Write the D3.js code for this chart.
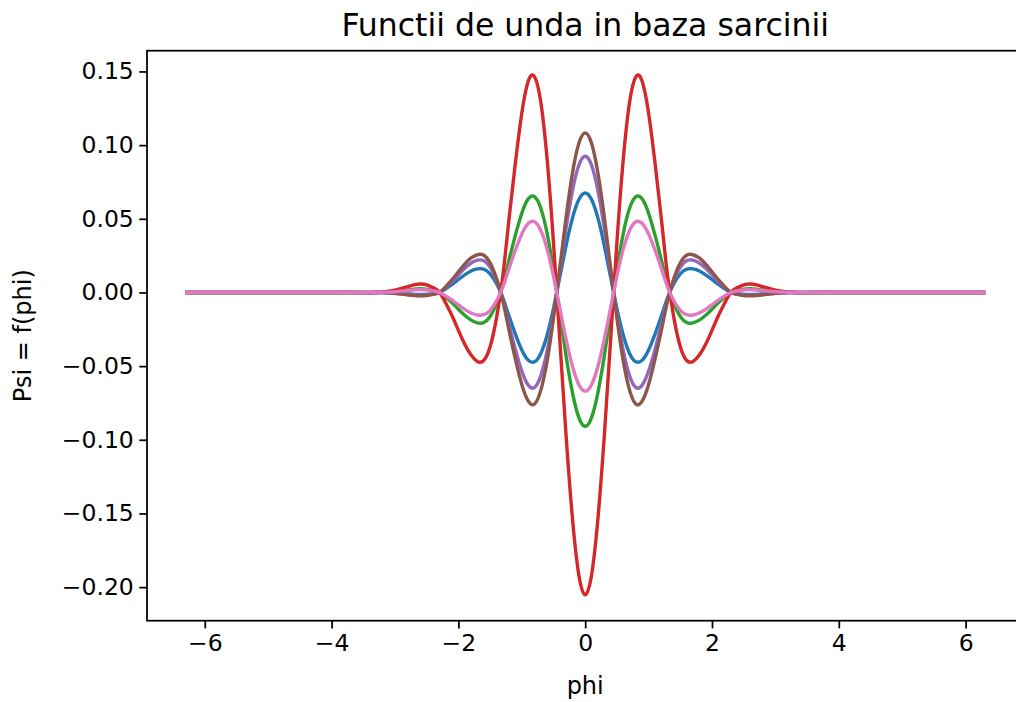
<!DOCTYPE html>
<html>
<head>
<meta charset="utf-8">
<script src="https://cdn.jsdelivr.net/npm/d3@7"></script>
<style>
  html, body { margin: 0; padding: 0; background: #fff; }
  svg { display: block; font-family: "DejaVu Sans", sans-serif; }
</style>
</head>
<body>
<svg id="chart" width="1016" height="702"></svg>
<script>
// Sample positions along phi (radians)
const phi = [-6.2832, -5, -4, -3.7,
  -3.4, -3.3, -3.2, -3.1, -3.0, -2.9, -2.8, -2.7, -2.6, -2.5, -2.4, -2.3, -2.2, -2.1, -2.0,
  -1.9, -1.8, -1.7, -1.6, -1.5, -1.4, -1.3, -1.2, -1.1, -1.0, -0.9, -0.8, -0.7, -0.6, -0.5,
  -0.4, -0.3, -0.2, -0.1, 0, 0.1, 0.2, 0.3, 0.4, 0.5, 0.6, 0.7, 0.8, 0.9, 1.0,
  1.1, 1.2, 1.3, 1.4, 1.5, 1.6, 1.7, 1.8, 1.9, 2.0, 2.1, 2.2, 2.3, 2.4, 2.5,
  2.6, 2.7, 2.8, 2.9, 3.0, 3.1, 3.2, 3.3, 3.4,
  3.7, 4, 5, 6.2832];

// Wave function values, one array per state
const psiBlue = [0, 0, 0, 0,
  0, 0, -0.0001, -0.0002, -0.0004, -0.0007, -0.0010, -0.0013, -0.0014, -0.0013, -0.0008, -0.0001, 0.0024, 0.0054, 0.0088,
  0.0120, 0.0146, 0.0160, 0.0158, 0.0126, 0.0061, -0.0035, -0.0162, -0.0284, -0.0390, -0.0459, -0.0471, -0.0414, -0.0289, -0.0108,
  0.0106, 0.0321, 0.0506, 0.0631, 0.0675, 0.0631, 0.0506, 0.0321, 0.0106, -0.0108, -0.0289, -0.0414, -0.0471, -0.0459, -0.0390,
  -0.0284, -0.0162, -0.0035, 0.0061, 0.0126, 0.0158, 0.0160, 0.0146, 0.0120, 0.0088, 0.0054, 0.0024, -0.0001, -0.0008, -0.0013,
  -0.0014, -0.0013, -0.0010, -0.0007, -0.0004, -0.0002, -0.0001, 0, 0,
  0, 0, 0, 0];

const psiGreen = [0, 0, 0, 0,
  -0.0001, 0, 0.0001, 0.0004, 0.0007, 0.0012, 0.0017, 0.0023, 0.0025, 0.0023, 0.0015, 0.0001, -0.0032, -0.0070, -0.0114,
  -0.0155, -0.0188, -0.0207, -0.0204, -0.0163, -0.0078, 0.0048, 0.0223, 0.0391, 0.0538, 0.0634, 0.0650, 0.0571, 0.0399, 0.0149,
  -0.0145, -0.0434, -0.0681, -0.0849, -0.0908, -0.0849, -0.0681, -0.0434, -0.0145, 0.0149, 0.0399, 0.0571, 0.0650, 0.0634, 0.0538,
  0.0391, 0.0223, 0.0048, -0.0078, -0.0163, -0.0204, -0.0207, -0.0188, -0.0155, -0.0114, -0.0070, -0.0032, 0.0001, 0.0015, 0.0023,
  0.0025, 0.0023, 0.0017, 0.0012, 0.0007, 0.0004, 0.0001, 0, -0.0001,
  0, 0, 0, 0];

const psiRed = [0, 0, 0, 0,
  -0.0002, 0, 0.0003, 0.0008, 0.0016, 0.0027, 0.0039, 0.0051, 0.0057, 0.0051, 0.0033, 0.0002, -0.0072, -0.0158, -0.0257,
  -0.0351, -0.0425, -0.0468, -0.0462, -0.0369, -0.0176, 0.0109, 0.0505, 0.0884, 0.1217, 0.1432, 0.1465, 0.1291, 0.0901, 0.0337,
  -0.0328, -0.0981, -0.1539, -0.1919, -0.2052, -0.1919, -0.1539, -0.0981, -0.0328, 0.0337, 0.0901, 0.1291, 0.1465, 0.1432, 0.1217,
  0.0884, 0.0505, 0.0109, -0.0176, -0.0369, -0.0462, -0.0468, -0.0425, -0.0351, -0.0257, -0.0158, -0.0072, 0.0002, 0.0033, 0.0051,
  0.0057, 0.0051, 0.0039, 0.0027, 0.0016, 0.0008, 0.0003, 0, -0.0002,
  0, 0, 0, 0];

const psiPurple = [0, 0, 0, 0,
  0, 0, -0.0001, -0.0003, -0.0006, -0.0009, -0.0014, -0.0018, -0.0019, -0.0018, -0.0011, -0.0001, 0.0033, 0.0074, 0.0120,
  0.0164, 0.0200, 0.0219, 0.0216, 0.0173, 0.0083, -0.0048, -0.0222, -0.0388, -0.0534, -0.0628, -0.0645, -0.0566, -0.0395, -0.0148,
  0.0145, 0.0440, 0.0693, 0.0864, 0.0924, 0.0864, 0.0693, 0.0440, 0.0145, -0.0148, -0.0395, -0.0566, -0.0645, -0.0628, -0.0534,
  -0.0388, -0.0222, -0.0048, 0.0083, 0.0173, 0.0216, 0.0219, 0.0200, 0.0164, 0.0120, 0.0074, 0.0033, -0.0001, -0.0011, -0.0018,
  -0.0019, -0.0018, -0.0014, -0.0009, -0.0006, -0.0003, -0.0001, 0, 0,
  0, 0, 0, 0];

const psiBrown = [0, 0, 0, 0,
  0, 0, -0.0001, -0.0003, -0.0006, -0.0011, -0.0016, -0.0021, -0.0023, -0.0021, -0.0013, -0.0001, 0.0039, 0.0087, 0.0141,
  0.0193, 0.0234, 0.0256, 0.0253, 0.0202, 0.0097, -0.0056, -0.0260, -0.0454, -0.0625, -0.0736, -0.0758, -0.0663, -0.0463, -0.0173,
  0.0170, 0.0515, 0.0812, 0.1012, 0.1082, 0.1012, 0.0812, 0.0515, 0.0170, -0.0173, -0.0463, -0.0663, -0.0758, -0.0736, -0.0625,
  -0.0454, -0.0260, -0.0056, 0.0097, 0.0202, 0.0253, 0.0256, 0.0234, 0.0193, 0.0141, 0.0087, 0.0039, -0.0001, -0.0013, -0.0021,
  -0.0023, -0.0021, -0.0016, -0.0011, -0.0006, -0.0003, -0.0001, 0, 0,
  0, 0, 0, 0];

const psiPink = [0, 0, 0, 0,
  0, 0, 0.0001, 0.0003, 0.0005, 0.0009, 0.0013, 0.0017, 0.0019, 0.0017, 0.0011, 0.0001, -0.0023, -0.0052, -0.0084,
  -0.0115, -0.0139, -0.0153, -0.0151, -0.0121, -0.0058, 0.0036, 0.0165, 0.0289, 0.0397, 0.0468, 0.0480, 0.0421, 0.0294, 0.0110,
  -0.0107, -0.0320, -0.0503, -0.0626, -0.0670, -0.0626, -0.0503, -0.0320, -0.0107, 0.0110, 0.0294, 0.0421, 0.0480, 0.0468, 0.0397,
  0.0289, 0.0165, 0.0036, -0.0058, -0.0121, -0.0151, -0.0153, -0.0139, -0.0115, -0.0084, -0.0052, -0.0023, 0.0001, 0.0011, 0.0017,
  0.0019, 0.0017, 0.0013, 0.0009, 0.0005, 0.0003, 0.0001, 0, 0,
  0, 0, 0, 0];

const seriesList = [
  { values: psiBlue,   color: "#1f77b4" },
  { values: psiGreen,  color: "#2ca02c" },
  { values: psiRed,    color: "#d62728" },
  { values: psiPurple, color: "#9467bd" },
  { values: psiBrown,  color: "#8c564b" },
  { values: psiPink,   color: "#e377c2" }
];

const xTicks = [-6, -4, -2, 0, 2, 4, 6];
const yTicks = [-0.20, -0.15, -0.10, -0.05, 0.00, 0.05, 0.10, 0.15];

const titleText = "Functii de unda in baza sarcinii";
const xLabelText = "phi";
const yLabelText = "Psi = f(phi)";

// Layout of the axes box
const boxLeft = 147, boxRight = 1023.4, boxTop = 50.7, boxBottom = 620.7;
const tickLen = 7.7, tickPad = 5.5;
const fontTick = 23.5, fontLabel = 24, fontTitle = 31.5;

const svg = d3.select("#chart");
svg.append("rect").attr("width", 1016).attr("height", 702).attr("fill", "#fff");

// Domains padded by 5% on each side
const xExt = d3.extent(phi);
const xPad = (xExt[1] - xExt[0]) * 0.05;
const allY = seriesList.flatMap(s => s.values);
const yExt = d3.extent(allY);
const yPad = (yExt[1] - yExt[0]) * 0.05;

const x = d3.scaleLinear().domain([xExt[0] - xPad, xExt[1] + xPad]).range([boxLeft, boxRight]);
const y = d3.scaleLinear().domain([yExt[0] - yPad, yExt[1] + yPad]).range([boxBottom, boxTop]);

svg.append("defs").append("clipPath").attr("id", "plot-clip")
  .append("rect").attr("x", boxLeft).attr("y", boxTop)
  .attr("width", boxRight - boxLeft).attr("height", boxBottom - boxTop);

const line = d3.line()
  .x((d, i) => x(phi[i]))
  .y(d => y(d))
  .curve(d3.curveNatural);

const plot = svg.append("g").attr("clip-path", "url(#plot-clip)");
seriesList.forEach(s => {
  plot.append("path")
    .attr("d", line(s.values))
    .attr("fill", "none")
    .attr("stroke", s.color)
    .attr("stroke-width", 3.4)
    .attr("stroke-linejoin", "round")
    .attr("stroke-linecap", "square");
});

const fmtMinus = s => s.replace("-", "\u2212");

// X axis
const xAxis = d3.axisBottom(x).tickValues(xTicks).tickSize(tickLen).tickPadding(tickPad)
  .tickFormat(d => fmtMinus(d3.format("d")(d)));
const gx = svg.append("g").attr("transform", `translate(0,${boxBottom})`).call(xAxis);
gx.select(".domain").remove();
gx.selectAll(".tick line").attr("stroke", "#000").attr("stroke-width", 1.75);
gx.selectAll(".tick text").attr("font-size", fontTick).attr("font-family", "DejaVu Sans").attr("fill", "#000");

// Y axis
const yAxis = d3.axisLeft(y).tickValues(yTicks).tickSize(tickLen).tickPadding(tickPad)
  .tickFormat(d => fmtMinus(d3.format(".2f")(d)));
const gy = svg.append("g").attr("transform", `translate(${boxLeft},0)`).call(yAxis);
gy.select(".domain").remove();
gy.selectAll(".tick line").attr("stroke", "#000").attr("stroke-width", 1.75);
gy.selectAll(".tick text").attr("font-size", fontTick).attr("font-family", "DejaVu Sans").attr("fill", "#000");

// Axes frame
svg.append("rect")
  .attr("x", boxLeft).attr("y", boxTop)
  .attr("width", boxRight - boxLeft).attr("height", boxBottom - boxTop)
  .attr("fill", "none").attr("stroke", "#000").attr("stroke-width", 1.75);

// Title and axis labels
svg.append("text").attr("x", (boxLeft + boxRight) / 2).attr("y", 36)
  .attr("text-anchor", "middle").attr("font-size", fontTitle).attr("fill", "#000")
  .text(titleText);

svg.append("text").attr("x", (boxLeft + boxRight) / 2).attr("y", 694)
  .attr("text-anchor", "middle").attr("font-size", fontLabel).attr("fill", "#000")
  .text(xLabelText);

svg.append("text")
  .attr("transform", `translate(31,${(boxTop + boxBottom) / 2}) rotate(-90)`)
  .attr("text-anchor", "middle").attr("font-size", fontLabel).attr("fill", "#000")
  .text(yLabelText);
</script>
</body>
</html>
